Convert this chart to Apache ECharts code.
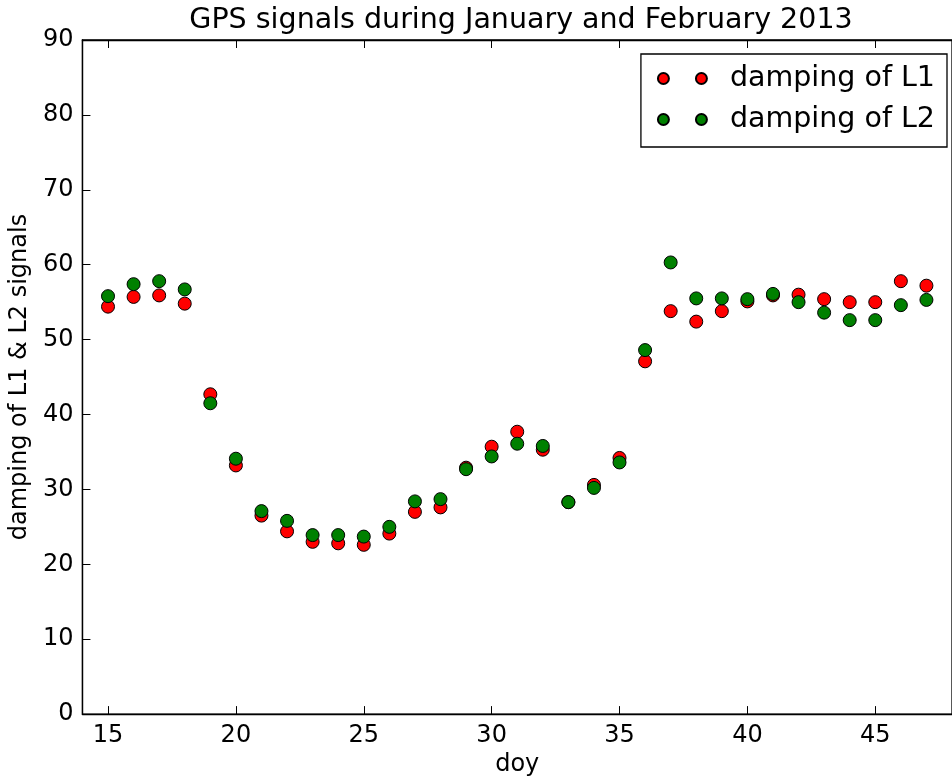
<!DOCTYPE html>
<html>
<head>
<meta charset="utf-8">
<script src="https://cdn.jsdelivr.net/npm/echarts@6/dist/echarts.min.js"></script>
<style>html,body{margin:0;padding:0;background:#fff}#c{width:952px;height:782px}</style>
</head>
<body>
<div id="c"></div>
<script>
const days = [15,16,17,18,19,20,21,22,23,24,25,26,27,28,29,30,31,32,33,34,35,36,37,38,39,40,41,42,43,44,45,46,47];
const dampingL1 = [54.4,55.7,55.9,54.8,42.7,33.2,26.5,24.4,23.0,22.8,22.6,24.1,27.0,27.6,32.9,35.7,37.7,35.3,28.3,30.6,34.2,47.1,53.8,52.4,53.8,55.1,55.9,56.0,55.4,55.0,55.0,57.8,57.2];
const dampingL2 = [55.8,57.4,57.8,56.7,41.5,34.1,27.1,25.8,23.9,23.9,23.7,25.0,28.4,28.7,32.7,34.4,36.1,35.8,28.3,30.2,33.6,48.6,60.3,55.5,55.5,55.4,56.1,55.0,53.6,52.6,52.6,54.6,55.3];
const xTicks = [15,20,25,30,35,40,45];
const seriesNames = ['damping of L1','damping of L2'];
const titleText = 'GPS signals during January and February 2013';
const xName = 'doy';
const yName = 'damping of L1 & L2 signals';

const font = 'DejaVu Sans';
const chart = echarts.init(document.getElementById('c'), null, {renderer:'canvas'});
const pair = (xs, ys) => xs.map((x,i)=>[x, ys[i]]);
const legendIcon = 'path://M0,5.5a5.5,5.5 0 1,0 11,0a5.5,5.5 0 1,0 -11,0M38,5.5a5.5,5.5 0 1,0 11,0a5.5,5.5 0 1,0 -11,0';
const axisCommon = {
  axisLine:{show:true, onZero:false, lineStyle:{color:'#000', width:1.3}},
  axisTick:{show:true, inside:true, length:8, lineStyle:{color:'#000', width:1}},
  splitLine:{show:false}
};
chart.setOption({
  backgroundColor:'#fff',
  animation:false,
  title:{text:titleText, left:516, textAlign:'center', top:1,
    textStyle:{fontFamily:font, fontSize:28.5, fontWeight:'normal', color:'#000'}},
  legend:{
    orient:'vertical', right:5, top:54,
    padding:[10,12,13,16], itemGap:12,
    backgroundColor:'#fff', borderColor:'#000', borderWidth:1.3, borderRadius:0,
    itemWidth:49, itemHeight:11, icon:legendIcon,
    textStyle:{fontFamily:font, fontSize:28.5, color:'#000', lineHeight:24, padding:[0,0,0,18]},
    data:seriesNames
  },
  grid:{left:81, top:40, right:-9, bottom:61, show:true, borderColor:'#000', borderWidth:1.3, containLabel:false},
  xAxis:[
    Object.assign({type:'value', min:14, max:48, position:'bottom',
      name:xName, nameLocation:'middle', nameGap:34,
      nameTextStyle:{fontFamily:font, fontSize:24, color:'#000'},
      axisLabel:{customValues:xTicks, fontFamily:font, fontSize:24, color:'#000', margin:10},
    }, axisCommon, {axisTick:Object.assign({}, axisCommon.axisTick, {customValues:xTicks})}),
    Object.assign({type:'value', min:14, max:48, position:'top',
      axisLabel:{show:false}
    }, axisCommon, {axisTick:Object.assign({}, axisCommon.axisTick, {customValues:xTicks})})
  ],
  yAxis:[
    Object.assign({type:'value', min:0, max:90, interval:10, position:'left',
      name:yName, nameLocation:'middle', nameGap:45, nameRotate:90,
      nameTextStyle:{fontFamily:font, fontSize:24, color:'#000'},
      axisLabel:{fontFamily:font, fontSize:24, color:'#000', margin:9}
    }, axisCommon)
  ],
  series:[
    {name:seriesNames[0], type:'scatter', xAxisIndex:0, yAxisIndex:0, data:pair(days, dampingL1),
     symbol:'circle', symbolSize:13, itemStyle:{color:'#ff0000', borderColor:'#000', borderWidth:1, opacity:1}},
    {name:seriesNames[1], type:'scatter', xAxisIndex:0, yAxisIndex:0, data:pair(days, dampingL2),
     symbol:'circle', symbolSize:13, itemStyle:{color:'#008000', borderColor:'#000', borderWidth:1, opacity:1}}
  ]
});
</script>
</body>
</html>
